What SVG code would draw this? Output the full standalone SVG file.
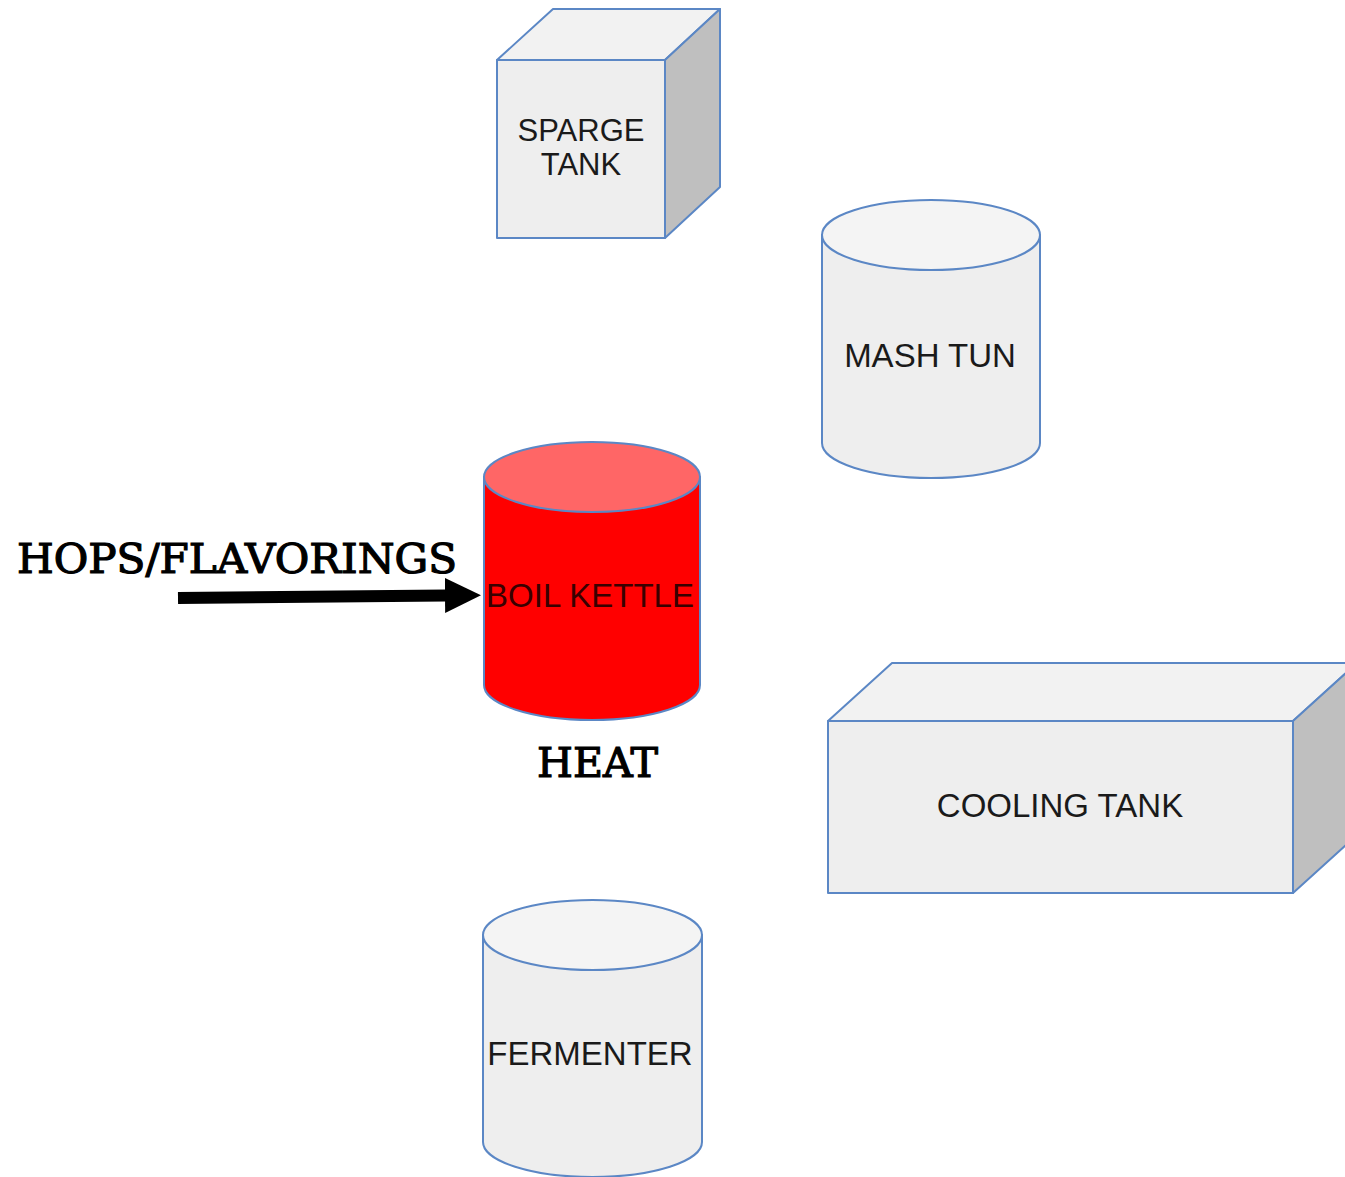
<svg xmlns="http://www.w3.org/2000/svg" width="1345" height="1177" viewBox="0 0 1345 1177">
  <style>
    .edge { stroke: #5b87c5; stroke-width: 2; stroke-linejoin: round; }
    .front { fill: #eeeeee; }
    .top { fill: #f2f2f2; }
    .side { fill: #bfbfbf; }
    .cyl-body { fill: #eeeeee; }
    .cyl-top { fill: #f4f4f4; }
    .label { font-family: "Liberation Sans", Arial, sans-serif; font-size: 33px; fill: #1a1a1a; text-anchor: middle; }
    .note { font-family: "DejaVu Serif", "Liberation Serif", serif; font-size: 41px; fill: #000000; stroke: #000000; stroke-width: 1.2; }
  </style>
  <defs>
    <marker id="arrowhead" markerUnits="userSpaceOnUse" markerWidth="37" markerHeight="36" refX="1" refY="17.5" orient="auto">
      <path d="M0,0 L36,17.5 L0,35 Z" fill="#000000"/>
    </marker>
  </defs>
  <rect width="1345" height="1177" fill="#ffffff"/>

  <!-- Sparge tank (cube) -->
  <g id="sparge-tank">
    <polygon class="top edge" points="497,60 553,9 720,9 665,60"/>
    <polygon class="side edge" points="665,60 720,9 720,187 665,238"/>
    <rect class="front edge" x="497" y="60" width="168" height="178"/>
    <text class="label" x="581" y="140.5" style="font-size:31px">SPARGE</text>
    <text class="label" x="581" y="174.5" style="font-size:31px">TANK</text>
  </g>

  <!-- Mash tun (cylinder) -->
  <g id="mash-tun">
    <path class="cyl-body edge" d="M822,235 V443 A109,35 0 0 0 1040,443 V235 Z"/>
    <ellipse class="cyl-top edge" cx="931" cy="235" rx="109" ry="35"/>
    <text class="label" x="930" y="367">MASH TUN</text>
  </g>

  <!-- Boil kettle (red cylinder) -->
  <g id="boil-kettle">
    <path class="edge" fill="#ff0000" d="M484,477 V685 A108,35 0 0 0 700,685 V477 Z"/>
    <ellipse class="edge" fill="#ff6666" cx="592" cy="477" rx="108" ry="35"/>
    <text class="label" x="590" y="607" style="fill:#3a0000">BOIL KETTLE</text>
  </g>

  <!-- Cooling tank (box) -->
  <g id="cooling-tank">
    <polygon class="top edge" points="828,721 892,663 1357,663 1293,721"/>
    <polygon class="side edge" points="1293,721 1357,663 1357,835 1293,893"/>
    <rect class="front edge" x="828" y="721" width="465" height="172"/>
    <text class="label" x="1060" y="817">COOLING TANK</text>
  </g>

  <!-- Fermenter (cylinder) -->
  <g id="fermenter">
    <path class="cyl-body edge" d="M483,935 V1142 A109.5,35 0 0 0 702,1142 V935 Z"/>
    <ellipse class="cyl-top edge" cx="592.5" cy="935" rx="109.5" ry="35"/>
    <text class="label" x="590" y="1065">FERMENTER</text>
  </g>

  <!-- Annotations -->
  <g id="hops-label">
    <text class="note" x="17" y="573" textLength="440" lengthAdjust="spacingAndGlyphs">HOPS/FLAVORINGS</text>
  </g>
  <g id="heat-label">
    <text class="note" x="537" y="777" textLength="121" lengthAdjust="spacingAndGlyphs">HEAT</text>
  </g>

  <!-- Connectors -->
  <g id="connectors">
    <line x1="178" y1="598" x2="446" y2="595.5" stroke="#000000" stroke-width="12" marker-end="url(#arrowhead)"/>
  </g>
</svg>
